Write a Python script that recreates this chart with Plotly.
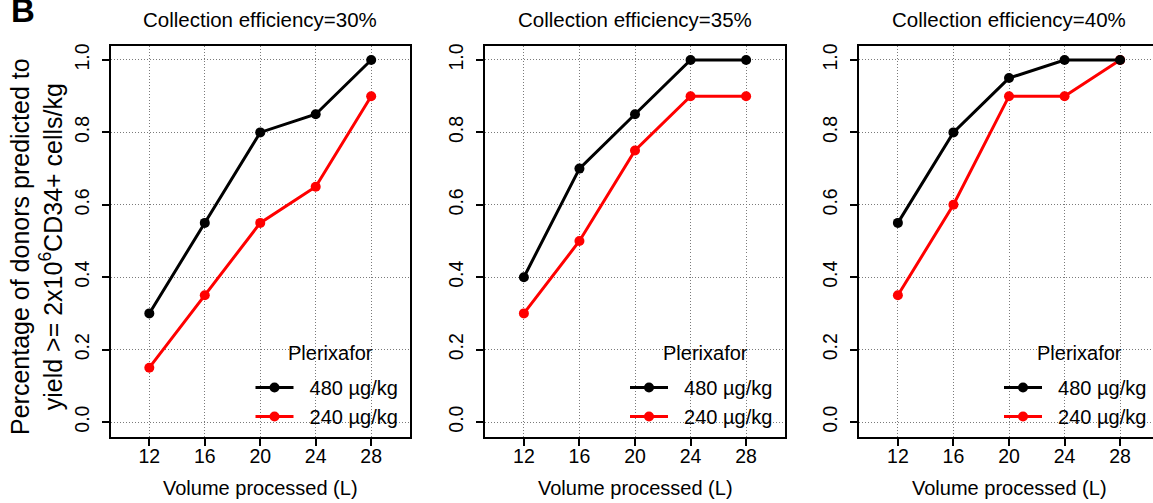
import plotly.graph_objects as go

# ---------------- data ----------------
volume = [12, 16, 20, 24, 28]
x_ticks = [12, 16, 20, 24, 28]
y_ticks = [0.0, 0.2, 0.4, 0.6, 0.8, 1.0]
y_tick_labels = ["0.0", "0.2", "0.4", "0.6", "0.8", "1.0"]
panel_titles = ["Collection efficiency=30%", "Collection efficiency=35%", "Collection efficiency=40%"]
legend_title = "Plerixafor"
dose_480 = "480 µg/kg"
dose_240 = "240 µg/kg"

eff30_480 = [0.30, 0.55, 0.80, 0.85, 1.00]
eff30_240 = [0.15, 0.35, 0.55, 0.65, 0.90]
eff35_480 = [0.40, 0.70, 0.85, 1.00, 1.00]
eff35_240 = [0.30, 0.50, 0.75, 0.90, 0.90]
eff40_480 = [0.55, 0.80, 0.95, 1.00, 1.00]
eff40_240 = [0.35, 0.60, 0.90, 0.90, 1.00]

panels = [(eff30_480, eff30_240), (eff35_480, eff35_240), (eff40_480, eff40_240)]

# ---------------- layout geometry ----------------
W, H = 1153, 503
FONT = "Liberation Sans, Arial, Helvetica, sans-serif"
panel_px = [(110.5, 410.0), (485.0, 785.0), (859.0, 1153.0)]
panel_full_right = [410.0, 785.0, 1159.0]
y_top_px, y_bot_px = 45.5, 436.5
y_dom = [1 - y_bot_px / H, 1 - y_top_px / H]
PAD = "\u00a0\u00a0"

fig = go.Figure()

for i, (s480, s240) in enumerate(panels):
    k = "" if i == 0 else str(i + 1)
    leg = "legend" + k
    fig.add_trace(go.Scatter(
        x=volume, y=s240, mode="lines+markers", name=PAD + dose_240,
        line=dict(color="#ff0000", width=3), marker=dict(color="#ff0000", size=10),
        xaxis="x" + k, yaxis="y" + k, legend=leg, legendrank=2))
    fig.add_trace(go.Scatter(
        x=volume, y=s480, mode="lines+markers", name=PAD + dose_480,
        line=dict(color="#000000", width=3), marker=dict(color="#000000", size=10),
        xaxis="x" + k, yaxis="y" + k, legend=leg, legendrank=1))

layout = dict(
    width=W, height=H,
    margin=dict(l=0, r=0, t=0, b=0),
    paper_bgcolor="white", plot_bgcolor="white",
    font=dict(family=FONT, color="#000000"),
    showlegend=True,
    annotations=[],
)

for i in range(3):
    k = "" if i == 0 else str(i + 1)
    left, right = panel_px[i]
    full_w = panel_full_right[i] - left
    per_unit = full_w / 21.6
    xmax = 9.2 + (right - left) / per_unit
    layout["xaxis" + k] = dict(
        domain=[left / W, right / W], range=[9.2, xmax], anchor="y" + k,
        tickvals=x_ticks, ticktext=[str(v) for v in x_ticks],
        ticks="outside", ticklen=7, tickwidth=1.5, tickcolor="#000",
        ticklabelstandoff=-6,
        tickfont=dict(size=19.5, family=FONT, color="#000"),
        showline=True, linecolor="#000", linewidth=2, mirror=True,
        showgrid=True, gridcolor="#7a7a7a", gridwidth=1, griddash="1px,2px",
        zeroline=False, automargin=False, fixedrange=True,
    )
    layout["yaxis" + k] = dict(
        domain=y_dom, range=[-0.04, 1.04], anchor="x" + k,
        tickvals=y_ticks, ticktext=y_tick_labels, tickangle=-90,
        ticks="outside", ticklen=7, tickwidth=1.5, tickcolor="#000",
        ticklabelstandoff=5,
        tickfont=dict(size=19.5, family=FONT, color="#000"),
        showline=True, linecolor="#000", linewidth=2, mirror=(i < 2),
        showgrid=True, gridcolor="#7a7a7a", gridwidth=1, griddash="1px,2px",
        zeroline=False, automargin=False, fixedrange=True,
    )
    cx = (left + panel_full_right[i]) / 2 / W
    layout["annotations"].append(dict(
        text=panel_titles[i], x=cx, y=1 - 20 / H, xref="paper", yref="paper",
        xanchor="center", yanchor="middle", showarrow=False,
        font=dict(size=20.5, family=FONT, color="#000")))
    layout["annotations"].append(dict(
        text="Volume processed (L)", x=cx, y=1 - 488 / H, xref="paper", yref="paper",
        xanchor="center", yanchor="middle", showarrow=False,
        font=dict(size=20, family=FONT, color="#000")))
    layout["annotations"].append(dict(
        text=legend_title, x=(left + 220) / W, y=1 - 353 / H, xref="paper", yref="paper",
        xanchor="center", yanchor="middle", showarrow=False,
        font=dict(size=20, family=FONT, color="#000")))
    layout["legend" + k] = dict(
        x=(left + 140) / W, y=1 - 368 / H, xanchor="left", yanchor="top",
        bgcolor="rgba(0,0,0,0)", borderwidth=0,
        traceorder="normal", itemwidth=38,
        font=dict(size=20, family=FONT, color="#000"),
    )

layout["annotations"].append(dict(
    text="Percentage of donors predicted to<br>yield >= 2x10<sup>6</sup>CD34+ cells/kg",
    x=37 / W, y=1 - 247 / H, xref="paper", yref="paper", textangle=-90,
    xanchor="center", yanchor="middle", showarrow=False,
    font=dict(size=25, family=FONT, color="#000")))
layout["annotations"].append(dict(
    text="<b>B</b>", x=9 / W, y=1 - 11 / H, xref="paper", yref="paper",
    xanchor="left", yanchor="middle", showarrow=False,
    font=dict(size=33, family=FONT, color="#000")))

fig.update_layout(**layout)
fig.write_html("out.html")
